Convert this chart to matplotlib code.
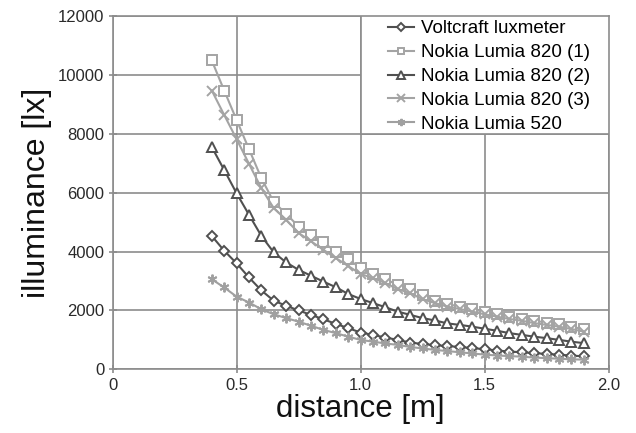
import matplotlib

matplotlib.use('agg')

import matplotlib.pyplot as plt
import numpy as np
from matplotlib.patches import Rectangle

plt.rcParams['font.family'] = ['Liberation Sans', 'DejaVu Sans']

# distances [m]
distance = [0.40, 0.45, 0.50, 0.55, 0.60, 0.65, 0.70, 0.75, 0.80, 0.85,
            0.90, 0.95, 1.00, 1.05, 1.10, 1.15, 1.20, 1.25, 1.30, 1.35,
            1.40, 1.45, 1.50, 1.55, 1.60, 1.65, 1.70, 1.75, 1.80, 1.85, 1.90]

voltcraft = [4530, 4030, 3600, 3120, 2680, 2330, 2160, 2000, 1850, 1700,
             1545, 1400, 1250, 1170, 1080, 1000, 910, 860, 820, 790,
             760, 720, 686, 640, 604, 580, 550, 525, 495, 470, 440]
lumia820_1 = [10490, 9470, 8470, 7480, 6490, 5680, 5280, 4850, 4570, 4310,
              4000, 3740, 3440, 3240, 3060, 2870, 2720, 2530, 2330, 2220,
              2130, 2040, 1950, 1870, 1790, 1720, 1650, 1590, 1530, 1450, 1360]
lumia820_2 = [7550, 6770, 5980, 5250, 4530, 3970, 3630, 3380, 3180, 2980,
              2790, 2560, 2390, 2250, 2110, 1960, 1850, 1740, 1660, 1560,
              1510, 1450, 1380, 1310, 1230, 1170, 1110, 1060, 1000, 940, 890]
lumia820_3 = [9470, 8640, 7820, 6980, 6150, 5470, 5080, 4630, 4350, 4060,
              3780, 3510, 3240, 3100, 2930, 2720, 2590, 2380, 2250, 2130,
              2050, 1960, 1870, 1790, 1710, 1650, 1570, 1510, 1450, 1370, 1280]
lumia520 = [3060, 2780, 2470, 2270, 2040, 1870, 1740, 1620, 1480, 1340,
            1230, 1110, 1000, 940, 880, 830, 760, 710, 660, 620,
            580, 540, 500, 470, 450, 430, 400, 380, 360, 340, 330]

series = [
    ("Voltcraft luxmeter", voltcraft, 'D', '#505050', 5.5),
    ("Nokia Lumia 820 (1)", lumia820_1, 's', '#a4a4a4', 6.5),
    ("Nokia Lumia 820 (2)", lumia820_2, '^', '#505050', 7),
    ("Nokia Lumia 820 (3)", lumia820_3, 'x', '#a4a4a4', 7),
    ("Nokia Lumia 520", lumia520, (6, 2, 0), '#a0a0a0', 7),
]

fig = plt.figure(figsize=(6.36, 4.33), dpi=100)
ax = fig.add_axes([0.177, 0.147, 0.78, 0.816])

for name, vals, mk, col, ms in series:
    ax.plot(distance, vals, color=col, lw=1.5, marker=mk, ms=ms,
            mfc='white', mec=col, mew=1.4, label=name)

ax.set_xlim(0, 2.0)
ax.set_ylim(0, 12000)
ax.set_xticks([0, 0.5, 1.0, 1.5, 2.0])
ax.set_xticklabels(['0', '0.5', '1.0', '1.5', '2.0'])
ax.set_yticks(np.arange(0, 12001, 2000))
ax.grid(True, color='#8c8c8c', lw=1.2)
ax.set_axisbelow(True)
for s in ax.spines.values():
    s.set_color('#8c8c8c')
    s.set_linewidth(1.2)
ax.tick_params(colors='#8c8c8c', labelcolor='#2a2a2a', labelsize=12,
               direction='inout', length=6, width=1.2, pad=3)

ax.set_xlabel('distance [m]', fontsize=22.5, color='#111111', labelpad=1)
ax.set_ylabel('illuminance [lx]', fontsize=23, color='#111111', labelpad=4)

# legend box spans from x = 1.0 to the right edge
ax.add_patch(Rectangle((0.5, 0.665), 0.5, 0.335, transform=ax.transAxes,
                       facecolor='white', edgecolor='#8c8c8c', lw=1.2,
                       zorder=4))
leg = ax.legend(loc='upper left', bbox_to_anchor=(0.555, 0.988),
                borderaxespad=0, frameon=False, fontsize=13.5,
                handlelength=1.4, handletextpad=0.35, labelspacing=0.36,
                borderpad=0, markerscale=0.75)
leg.set_zorder(5)

fig.savefig('out.png', dpi=100)
